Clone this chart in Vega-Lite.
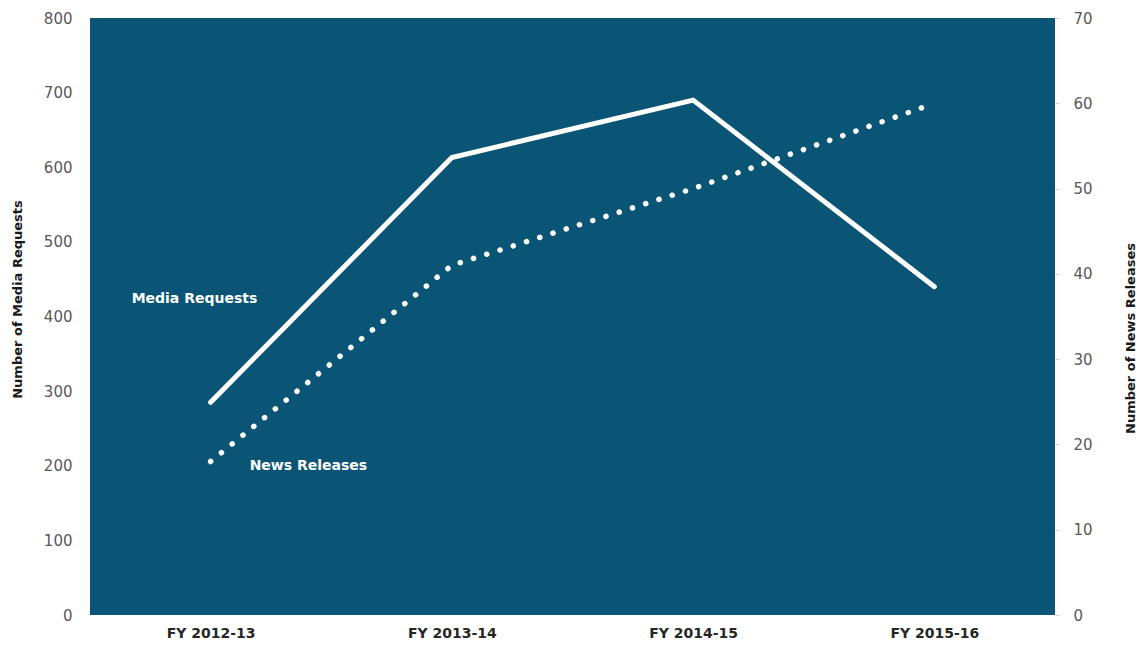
{
  "$schema": "https://vega.github.io/schema/vega-lite/v6.json",
  "width": 965,
  "height": 597,
  "autosize": {"type": "none"},
  "padding": {"left": 90, "top": 18, "right": 83, "bottom": 39},
  "background": "#ffffff",
  "config": {
    "view": {"fill": "#0a5575", "stroke": null},
    "font": "DejaVu Sans",
    "axis": {"grid": false, "domain": false}
  },
  "datasets": {
    "yearly": [
      {"year": "FY 2012-13", "media": 285, "news": 18},
      {"year": "FY 2013-14", "media": 613, "news": 41},
      {"year": "FY 2014-15", "media": 690, "news": 50},
      {"year": "FY 2015-16", "media": 440, "news": 60}
    ],
    "labels": [
      {"year": "FY 2012-13", "series": "media", "text": "Media Requests", "value": 423},
      {"year": "FY 2012-13", "series": "news", "text": "News Releases", "value": 17.5}
    ]
  },
  "encoding": {
    "x": {
      "field": "year",
      "type": "ordinal",
      "sort": null,
      "scale": {"type": "point", "padding": 0.5},
      "axis": {
        "title": null,
        "ticks": false,
        "labelAngle": 0,
        "labelFont": "DejaVu Sans",
        "labelFontWeight": "bold",
        "labelFontSize": 14,
        "labelColor": "#262626",
        "labelPadding": 11
      }
    }
  },
  "layer": [
    {
      "layer": [
        {
          "data": {"name": "yearly"},
          "mark": {"type": "line", "color": "#ffffff", "strokeWidth": 5, "strokeCap": "round", "strokeJoin": "miter"},
          "encoding": {
            "y": {
              "field": "media",
              "type": "quantitative",
              "title": "Number of Media Requests",
              "scale": {"domain": [0, 800], "nice": false},
              "axis": {
                "orient": "left",
                "values": [0, 100, 200, 300, 400, 500, 600, 700, 800],
                "ticks": false,
                "labelColor": "#595959",
                "labelFontSize": 15,
                "labelPadding": 18,
                "titleFontSize": 13,
                "titleFontWeight": "bold",
                "titleColor": "#1a1a1a",
                "titlePadding": 19,
                "titleY": 281
              }
            }
          }
        },
        {
          "data": {"name": "labels"},
          "transform": [{"filter": "datum.series === 'media'"}],
          "mark": {"type": "text", "align": "left", "baseline": "middle", "dx": -79, "color": "#ffffff", "fontWeight": "bold", "fontSize": 14, "font": "DejaVu Sans"},
          "encoding": {
            "y": {"field": "value", "type": "quantitative", "title": "Number of Media Requests"},
            "text": {"field": "text"}
          }
        }
      ]
    },
    {
      "layer": [
        {
          "data": {"name": "yearly"},
          "mark": {"type": "line", "color": "#ffffff", "strokeWidth": 5.5, "strokeCap": "round", "strokeDash": [0.1, 13.8]},
          "encoding": {
            "y": {
              "field": "news",
              "type": "quantitative",
              "title": "Number of News Releases",
              "scale": {"domain": [0, 70], "nice": false},
              "axis": {
                "orient": "right",
                "values": [0, 10, 20, 30, 40, 50, 60, 70],
                "ticks": true,
                "tickSize": 4,
                "tickColor": "#d0d0d0",
                "labelColor": "#595959",
                "labelFontSize": 15,
                "labelPadding": 14,
                "titleAngle": -90,
                "titleFontSize": 13,
                "titleFontWeight": "bold",
                "titleColor": "#1a1a1a",
                "titlePadding": 45,
                "titleY": 320
              }
            }
          }
        },
        {
          "data": {"name": "labels"},
          "transform": [{"filter": "datum.series === 'news'"}],
          "mark": {"type": "text", "align": "left", "baseline": "middle", "dx": 39, "color": "#ffffff", "fontWeight": "bold", "fontSize": 14, "font": "DejaVu Sans"},
          "encoding": {
            "y": {"field": "value", "type": "quantitative", "title": "Number of News Releases"},
            "text": {"field": "text"}
          }
        }
      ]
    }
  ],
  "resolve": {"scale": {"y": "independent"}}
}
